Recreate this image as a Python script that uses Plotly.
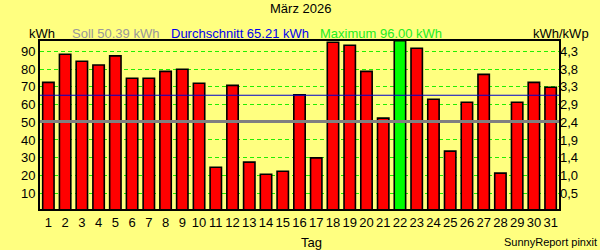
import plotly.graph_objects as go

days = list(range(1, 32))
energy_kwh = [72.5, 88.3, 84.4, 82.3, 87.4, 74.8, 74.8, 78.7, 79.9, 72.0,
              24.6, 70.8, 27.5, 20.7, 22.4, 65.5, 29.9, 95.1, 93.4, 78.7,
              52.3, 96.0, 91.7, 63.0, 33.7, 61.3, 77.0, 21.3, 61.3, 72.5, 69.7]
soll = 50.39
durchschnitt = 65.21
maximum = 96.00
left_ticks = [10, 20, 30, 40, 50, 60, 70, 80, 90]
right_ticktext = ["0,5", "1,0", "1,4", "1,9", "2,4", "2,9", "3,3", "3,8", "4,3"]

W, H = 600, 250
L, R, T, B = 40, 41, 41, 41
PW, PH = W - L - R, H - T - B
BG = "#FFFF80"
FONT = "Liberation Sans, Arial, sans-serif"

colors = ["#00FF00" if v == maximum else "#FF0000" for v in energy_kwh]

fig = go.Figure()
fig.add_trace(go.Bar(x=days, y=energy_kwh, marker=dict(color=colors, line=dict(color="black", width=1.6)),
                     width=0.68, showlegend=False))
# invisible trace for right axis
fig.add_trace(go.Scatter(x=[days[0]], y=[soll], yaxis="y2", mode="markers",
                         marker=dict(opacity=0), showlegend=False, hoverinfo="skip"))

yr = [1.1, 95.8]
fig.update_layout(
    width=W, height=H,
    margin=dict(l=L, r=R, t=T, b=B, pad=0),
    paper_bgcolor=BG, plot_bgcolor=BG,
    font=dict(family=FONT, size=13, color="black"),
    bargap=0.32,
    xaxis=dict(range=[0.5, 31.5], tickmode="array", tickvals=days, ticktext=[str(d) for d in days],
               showgrid=False, zeroline=False, showline=True, linecolor="black", linewidth=2,
               mirror=True, ticks="", ticklen=0, tickfont=dict(size=13), fixedrange=True),
    yaxis=dict(range=yr, tickmode="array", tickvals=left_ticks, ticktext=[str(v) for v in left_ticks],
               showgrid=True, gridcolor="#22EE00", gridwidth=1, griddash="4px,3px",
               zeroline=False, showline=True, linecolor="black", linewidth=2, mirror=True,
               ticks="", tickfont=dict(size=13)),
    yaxis2=dict(range=yr, overlaying="y", side="right", tickmode="array", tickvals=left_ticks,
                ticktext=right_ticktext, showgrid=False, zeroline=False, showline=False,
                ticks="", tickfont=dict(size=13)),
)

fig.add_shape(type="line", xref="paper", yref="y", x0=0, x1=1, y0=soll, y1=soll,
              line=dict(color="#808080", width=3), layer="above")
fig.add_shape(type="line", xref="paper", yref="y", x0=0, x1=1, y0=durchschnitt, y1=durchschnitt,
              line=dict(color="#0000CC", width=1.2), layer="above")


def px(x):
    return (x - L) / PW


def py(y):
    return (H - B - y) / PH


def label(text, x, y, color="black", size=13, xanchor="left"):
    fig.add_annotation(text=text, xref="paper", yref="paper", x=px(x), y=py(y),
                       xanchor=xanchor, yanchor="middle", showarrow=False,
                       font=dict(family=FONT, size=size, color=color))


label("März 2026", 300.5, 8.5, xanchor="center")
label("kWh", 26.5, 33.5)
label(f"Soll {soll:.2f} kWh", 70, 33.5, color="#999999")
label(f"Durchschnitt {durchschnitt:.2f} kWh", 168.5, 33.5, color="#0000EE")
label(f"Maximum {maximum:.2f} kWh", 318, 33.5, color="#22EE22")
label("kWh/kWp", 531, 33.5)
label("Tag", 298.5, 242)
label("SunnyReport pinxit", 598.5, 241.5, size=11, xanchor="right")

fig.write_html("out.html")
